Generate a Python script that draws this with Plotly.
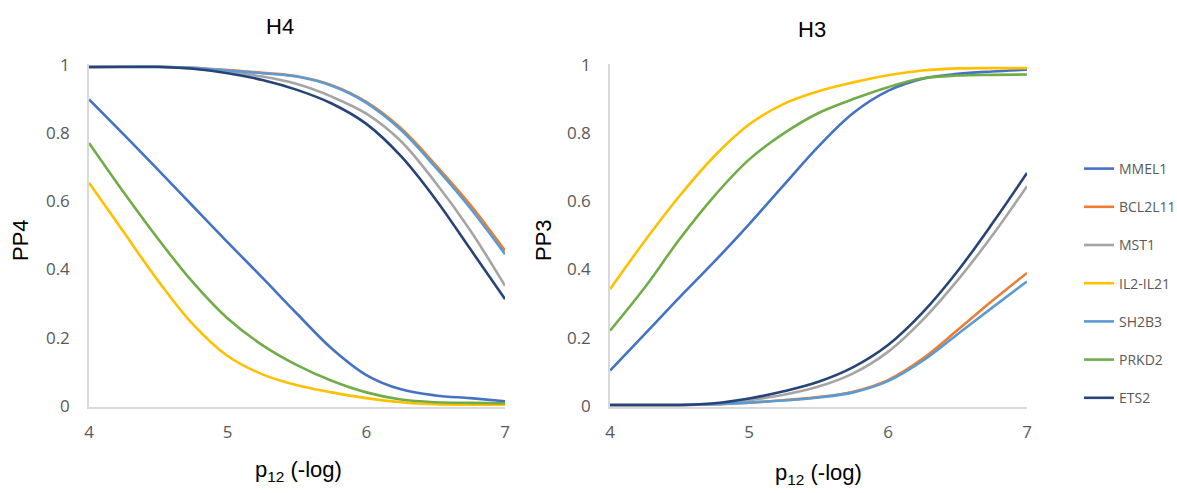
import plotly.graph_objects as go

x_vals = [4.0, 4.25, 4.5, 4.75, 5.0, 5.25, 5.5, 5.75, 6.0, 6.25, 6.5, 6.75, 7.0]

series_names = ["MMEL1", "BCL2L11", "MST1", "IL2-IL21", "SH2B3", "PRKD2", "ETS2"]
series_colors = ["#4472C4", "#ED7D31", "#A5A5A5", "#FFC000", "#5B9BD5", "#70AD47", "#264478"]

# H4 panel (PP4)
h4_MMEL1 = [0.90, 0.797, 0.692, 0.586, 0.48, 0.376, 0.27, 0.168, 0.09, 0.048, 0.03, 0.022, 0.013]
h4_BCL2L11 = [0.995, 0.996, 0.996, 0.993, 0.986, 0.978, 0.968, 0.942, 0.893, 0.815, 0.707, 0.59, 0.455]
h4_MST1 = [0.995, 0.996, 0.996, 0.991, 0.98, 0.967, 0.945, 0.908, 0.858, 0.777, 0.655, 0.515, 0.352]
h4_IL2_IL21 = [0.655, 0.51, 0.366, 0.239, 0.146, 0.092, 0.06, 0.039, 0.022, 0.01, 0.004, 0.003, 0.003]
h4_SH2B3 = [0.995, 0.996, 0.996, 0.993, 0.985, 0.977, 0.967, 0.94, 0.89, 0.81, 0.70, 0.58, 0.445]
h4_PRKD2 = [0.772, 0.627, 0.489, 0.362, 0.256, 0.178, 0.119, 0.073, 0.039, 0.018, 0.01, 0.008, 0.007]
h4_ETS2 = [0.995, 0.995, 0.995, 0.99, 0.977, 0.957, 0.928, 0.888, 0.828, 0.733, 0.606, 0.46, 0.313]

# H3 panel (PP3)
h3_MMEL1 = [0.103, 0.21, 0.318, 0.423, 0.533, 0.648, 0.762, 0.86, 0.925, 0.961, 0.975, 0.982, 0.987]
h3_BCL2L11 = [0.002, 0.002, 0.002, 0.004, 0.009, 0.016, 0.025, 0.041, 0.075, 0.138, 0.222, 0.308, 0.39]
h3_MST1 = [0.002, 0.002, 0.002, 0.005, 0.016, 0.032, 0.056, 0.095, 0.158, 0.252, 0.368, 0.5, 0.645]
h3_IL2_IL21 = [0.342, 0.484, 0.616, 0.733, 0.826, 0.887, 0.924, 0.95, 0.971, 0.985, 0.991, 0.992, 0.992]
h3_SH2B3 = [0.002, 0.002, 0.002, 0.004, 0.009, 0.015, 0.024, 0.039, 0.072, 0.132, 0.21, 0.288, 0.365]
h3_PRKD2 = [0.22, 0.347, 0.489, 0.616, 0.723, 0.80, 0.86, 0.901, 0.936, 0.962, 0.97, 0.972, 0.973]
h3_ETS2 = [0.002, 0.002, 0.002, 0.007, 0.021, 0.042, 0.07, 0.113, 0.178, 0.274, 0.395, 0.535, 0.684]

h4_data = [h4_MMEL1, h4_BCL2L11, h4_MST1, h4_IL2_IL21, h4_SH2B3, h4_PRKD2, h4_ETS2]
h3_data = [h3_MMEL1, h3_BCL2L11, h3_MST1, h3_IL2_IL21, h3_SH2B3, h3_PRKD2, h3_ETS2]

x_ticks = [4, 5, 6, 7]
y_ticks = [0, 0.2, 0.4, 0.6, 0.8, 1]
y_tick_text = ["0", "0.2", "0.4", "0.6", "0.8", "1"]

W, H = 1177, 493
fig = go.Figure()

for i, name in enumerate(series_names):
    fig.add_trace(go.Scatter(
        x=x_vals, y=h4_data[i], mode="lines", name=name,
        line=dict(color=series_colors[i], width=2.6, shape="spline", smoothing=1.0),
        xaxis="x", yaxis="y", showlegend=False, legendgroup=name))
for i, name in enumerate(series_names):
    fig.add_trace(go.Scatter(
        x=x_vals, y=h3_data[i], mode="lines", name=name,
        line=dict(color=series_colors[i], width=2.6, shape="spline", smoothing=1.0),
        xaxis="x2", yaxis="y2", showlegend=True, legendgroup=name))

tick_font = dict(family="Open Sans, sans-serif", size=17, color="#595959")
ydom = [1 - 407 / H, 1 - 64 / H]
yrange = [-0.004, 1.004]

common_x = dict(range=[4, 7], tickvals=x_ticks, showgrid=False, zeroline=False,
                showline=True, linecolor="#D9D9D9", linewidth=1.5, ticks="",
                tickfont=tick_font, ticklabelstandoff=9, fixedrange=True, automargin=False)
common_y = dict(range=yrange, tickvals=y_ticks, ticktext=y_tick_text, showgrid=False,
                zeroline=False, showline=True, linecolor="#D9D9D9", linewidth=1.5,
                ticks="", tickfont=tick_font, ticklabelstandoff=14, fixedrange=True,
                automargin=False)

fig.update_layout(
    width=W, height=H,
    margin=dict(l=0, r=0, t=0, b=0, autoexpand=False),
    paper_bgcolor="white", plot_bgcolor="white",
    xaxis=dict(domain=[89 / W, 505 / W], anchor="y", **common_x),
    yaxis=dict(domain=ydom, anchor="x", **common_y),
    xaxis2=dict(domain=[610 / W, 1027 / W], anchor="y2", **common_x),
    yaxis2=dict(domain=ydom, anchor="x2", **common_y),
    legend=dict(x=1079 / W, y=1 - 153 / H, xanchor="left", yanchor="top",
                font=dict(family="Open Sans, sans-serif", size=14, color="#595959"),
                tracegroupgap=17, itemwidth=30, bgcolor="rgba(0,0,0,0)"),
    showlegend=True,
)

title_font = dict(family="Liberation Sans, Arial, sans-serif", size=22, color="#000000")
axis_title_font = dict(family="Liberation Sans, Arial, sans-serif", size=22, color="#000000")
annos = [
    dict(text="H4", x=280 / W, y=1 - 26 / H, font=title_font),
    dict(text="H3", x=812 / W, y=1 - 29 / H, font=title_font),
    dict(text="PP4", x=20 / W, y=1 - 240 / H, textangle=-90, font=axis_title_font),
    dict(text="PP3", x=543 / W, y=1 - 240 / H, textangle=-90, font=axis_title_font),
    dict(text="p<sub>12</sub> (-log)", x=298 / W, y=1 - 471 / H, font=axis_title_font),
    dict(text="p<sub>12</sub> (-log)", x=818 / W, y=1 - 474 / H, font=axis_title_font),
]
for a in annos:
    a.update(xref="paper", yref="paper", showarrow=False, xanchor="center", yanchor="middle")
fig.update_layout(annotations=annos)

fig.write_html("out.html")
